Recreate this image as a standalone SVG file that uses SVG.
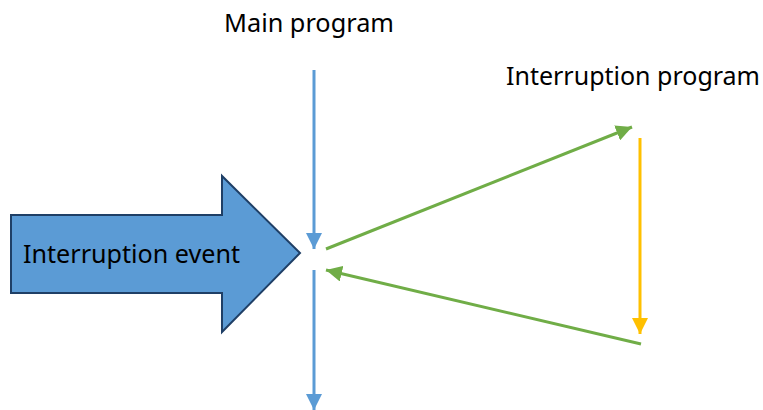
<svg xmlns="http://www.w3.org/2000/svg" width="763" height="410" viewBox="0 0 763 410">
<style>
text{font-family:"Noto Sans","Open Sans","DejaVu Sans",sans-serif;font-size:25px;fill:#000}
.blue{stroke:#5b9bd5;stroke-width:3;fill:none}
.green{stroke:#70ad47;stroke-width:3;fill:none}
.orange{stroke:#ffc000;stroke-width:3;fill:none}
</style>
<defs>
<marker id="mb" markerUnits="userSpaceOnUse" markerWidth="16" markerHeight="16" refX="16" refY="8" orient="auto" viewBox="0 0 16 16"><path d="M0,0L16,8L0,16Z" fill="#5b9bd5"/></marker>
<marker id="mg" markerUnits="userSpaceOnUse" markerWidth="16" markerHeight="16" refX="16" refY="8" orient="auto" viewBox="0 0 16 16"><path d="M0,0L16,8L0,16Z" fill="#70ad47"/></marker>
<marker id="mo" markerUnits="userSpaceOnUse" markerWidth="16" markerHeight="16" refX="16" refY="8" orient="auto" viewBox="0 0 16 16"><path d="M0,0L16,8L0,16Z" fill="#ffc000"/></marker>
</defs>
<g id="event">
<path d="M11,215H222V176L300,253L222,332V293H11Z" fill="#5b9bd5" stroke="#1f3f66" stroke-width="2" stroke-linejoin="miter"/>
<text x="23" y="263" textLength="217" lengthAdjust="spacingAndGlyphs">Interruption event</text>
</g>
<g id="main-label"><text x="224" y="32" textLength="170" lengthAdjust="spacingAndGlyphs">Main program</text></g>
<g id="interrupt-label"><text x="506" y="85" textLength="254" lengthAdjust="spacingAndGlyphs">Interruption program</text></g>
<g id="connectors">
<line class="blue" x1="314" y1="70" x2="314" y2="249" marker-end="url(#mb)"/>
<line class="blue" x1="314" y1="270" x2="314" y2="410" marker-end="url(#mb)"/>
<line class="green" x1="326" y1="249" x2="632" y2="127" marker-end="url(#mg)"/>
<line class="green" x1="641" y1="344" x2="326" y2="270" marker-end="url(#mg)"/>
<line class="orange" x1="640" y1="138" x2="640" y2="334" marker-end="url(#mo)"/>
</g>
</svg>
